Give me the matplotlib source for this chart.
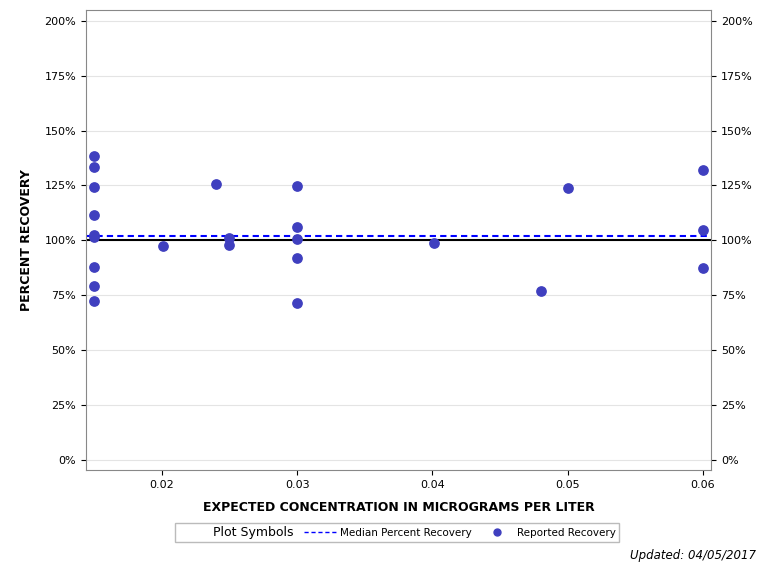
import matplotlib
matplotlib.use("Agg")
import matplotlib.pyplot as plt
from matplotlib.ticker import FuncFormatter
from matplotlib.lines import Line2D

x = [0.015]*9 + [0.0201, 0.024, 0.025, 0.025] + [0.03]*5 + [0.0401, 0.048, 0.05, 0.06, 0.06, 0.06]
y = [138.5, 133.5, 124.4, 111.6, 102.5, 101.6, 87.9, 79.3, 72.4,
     97.2, 125.7, 101.1, 98.0,
     124.8, 106.2, 100.7, 92.0, 71.5,
     98.9, 77.0, 123.9, 132.1, 104.8, 87.5]
median = 102.0

fig = plt.figure(figsize=(7.68, 5.76), dpi=100)
ax = fig.add_axes([0.112, 0.184, 0.814, 0.799])
ax.set_xlim(0.0144, 0.0606)
ax.set_ylim(-4.6, 205)
for v in range(0, 201, 25):
    ax.axhline(v, color='#e4e4e4', lw=0.8, zorder=0)
ax.axhline(100, color='black', lw=1.5, zorder=2)
ax.axhline(median, color='#0000ff', lw=1.5, ls=(0, (3, 2)), zorder=2)
ax.scatter(x, y, s=45, color='#3f3fbf', zorder=3)
ax.set_xticks([0.02, 0.03, 0.04, 0.05, 0.06])
ax.set_xticklabels(['0.02', '0.03', '0.04', '0.05', '0.06'])
ax.set_yticks(range(0, 201, 25))
ax.yaxis.set_major_formatter(FuncFormatter(lambda v, p: f"{int(v)}%"))
ax.tick_params(labelsize=8, right=True, labelright=True)
for s in ax.spines.values():
    s.set_color('#888888')
ax.set_xlabel('EXPECTED CONCENTRATION IN MICROGRAMS PER LITER', fontsize=9, fontweight='bold', labelpad=8)
ax.set_ylabel('PERCENT RECOVERY', fontsize=9, fontweight='bold', labelpad=8)

h = [Line2D([], [], color='none'),
     Line2D([], [], color='#0000ff', ls=(0, (3, 2)), lw=1),
     Line2D([], [], marker='o', color='#3f3fbf', ls='none', ms=5)]
leg = fig.legend(h, ['Plot Symbols', 'Median Percent Recovery', 'Reported Recovery'], loc='center',
                 bbox_to_anchor=(0.517, 0.076), ncol=3, fontsize=7.5, frameon=True,
                 fancybox=False, edgecolor='#aaaaaa', handlelength=3, handletextpad=0.4,
                 borderpad=0.3, columnspacing=1.0)
leg.get_texts()[0].set_fontsize(9)
leg.legend_handles[0].set_visible(False)
fig.text(0.985, 0.035, 'Updated: 04/05/2017', fontsize=8.5, style='italic', ha='right', va='center')
fig.savefig('out.png', dpi=100)
